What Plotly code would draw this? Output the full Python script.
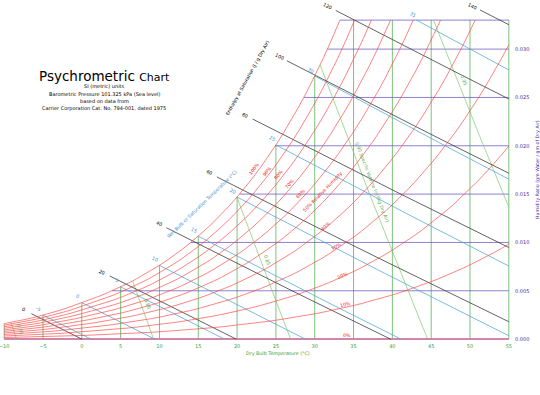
import numpy as np
import plotly.graph_objects as go

# ---------------- data ----------------
P_ATM = 101.325          # kPa, sea level
W_TOP = 0.033            # upper humidity-ratio limit of the chart

sat_temps = list(range(-10, 56))
sat_pressure_kpa = [0.2599, 0.2839, 0.3099, 0.3380, 0.3684, 0.4018, 0.4375, 0.4763, 0.5177, 0.5623,
                    0.6112, 0.6571, 0.7060, 0.7581, 0.8135, 0.8726, 0.9354, 1.0021, 1.0730, 1.1482,
                    1.2282, 1.3129, 1.4028, 1.4981, 1.5989, 1.7057, 1.8188, 1.9383, 2.0647, 2.1982,
                    2.3392, 2.4881, 2.6452, 2.8109, 2.9856, 3.1697, 3.3637, 3.5679, 3.7828, 4.0089,
                    4.2467, 4.4966, 4.7592, 5.0351, 5.3247, 5.6286, 5.9475, 6.2818, 6.6324, 6.9997,
                    7.3844, 7.7873, 8.2090, 8.6503, 9.1118, 9.5944, 10.0988, 10.6259, 11.1764, 11.7512,
                    12.3513, 12.9774, 13.6305, 14.3116, 15.0215, 15.7614]

dry_bulb_temps = [-10, -5, 0, 5, 10, 15, 20, 25, 30, 35, 40, 45, 50, 55]
humidity_ratios = [0.005, 0.010, 0.015, 0.020, 0.025, 0.030]
rh_levels = [10, 20, 30, 40, 50, 60, 70, 80, 90, 100]
rh_label_levels = [0, 10, 20, 30, 40, 50, 60, 70, 80, 90, 100]
rh_label_text = ["0%", "10%", "20%", "30%", "40%", "50% Relative Humidity",
                 "60%", "70%", "80%", "90%", "100%"]
enthalpy_levels = [0, 20, 40, 60, 80, 100, 120, 140]          # kJ/kg dry air
enthalpy_label_temps = [-7.5, 2.6, 9.9, 16.4, 21.0, 25.4, 31.7, 50.3]
wet_bulb_temps = [-5, 0, 5, 10, 15, 20, 25, 30, 35]
volume_levels = [0.75, 0.80, 0.85, 0.90, 0.95]                # m3/kg dry air
volume_label_text = ["0.75", "0.80", "0.85", "0.90 Specific Volume (m³/kg Dry Air)", "0.95"]
volume_label_w = [0.00103, 0.00372, 0.00817, 0.0162, 0.0268]
x_tick_vals = list(range(-10, 56, 5))
y_tick_vals = [0.000, 0.005, 0.010, 0.015, 0.020, 0.025, 0.030]
y_tick_text = ["0.000", "0.005", "0.010", "0.015", "0.020", "0.025", "0.030"]

# ---------------- geometry / style ----------------
FIG_W, FIG_H = 540, 395
M_L, M_R, M_T, M_B = 3, 30, 0, 53
X_RANGE = [-10.15, 55.15]
Y_RANGE = [-0.0003, 0.03508]
PLOT_W = FIG_W - M_L - M_R
PLOT_H = FIG_H - M_T - M_B
PX_PER_C = PLOT_W / (X_RANGE[1] - X_RANGE[0])
PX_PER_W = PLOT_H / (Y_RANGE[1] - Y_RANGE[0])

FONT = "DejaVu Sans"
RED = "rgba(255,60,60,0.8)"
GREEN_DB = "rgba(80,175,80,0.75)"
PURPLE = "rgba(105,85,185,0.75)"
BLUE = "rgba(80,165,215,0.85)"
GRAY = "rgba(50,50,50,0.85)"
VOL = "rgba(120,200,100,0.75)"
LW = 0.9


def paper(px, py):
    return (px - M_L) / PLOT_W, (M_T + PLOT_H - py) / PLOT_H


def ws_at(T):
    p = np.interp(T, sat_temps, sat_pressure_kpa)
    return 0.621945 * p / (P_ATM - p)


def w_rh(T, phi):
    p = phi * np.interp(T, sat_temps, sat_pressure_kpa)
    return 0.621945 * p / (P_ATM - p)


def angle(dT, dW):
    return -np.degrees(np.arctan2(dW * PX_PER_W, dT * PX_PER_C))


def clip_top(T, W):
    oT, oW = [], []
    for i in range(len(T)):
        if W[i] <= W_TOP:
            oT.append(float(T[i])); oW.append(float(W[i]))
        else:
            if i > 0 and W[i - 1] < W_TOP:
                f = (W_TOP - W[i - 1]) / (W[i] - W[i - 1])
                oT.append(float(T[i - 1] + f * (T[i] - T[i - 1]))); oW.append(W_TOP)
            break
    return oT, oW


def add_family(fig, segs, color, width=LW):
    xs, ys = [], []
    for t, w in segs:
        xs += list(t) + [None]
        ys += list(w) + [None]
    fig.add_trace(go.Scatter(x=xs, y=ys, mode="lines", hoverinfo="skip",
                             line=dict(color=color, width=width), showlegend=False))


def label(**kw):
    d = dict(showarrow=False, xanchor="center", yanchor="middle")
    d.update(kw)
    return d


sat_T = np.array(sat_temps, dtype=float)
sat_W = ws_at(sat_T)

fig = go.Figure()
ann = []

# dry-bulb verticals
segs = []
for T in dry_bulb_temps:
    segs.append(([T, T], [0, min(ws_at(T), W_TOP)]))
add_family(fig, segs, GREEN_DB, 1.0)

# humidity ratio horizontals
segs = []
for w in humidity_ratios + [W_TOP]:
    t0 = float(np.interp(w, sat_W, sat_T))
    segs.append(([t0, 55], [w, w]))
add_family(fig, segs, PURPLE, 1.0)
add_family(fig, [([-10, 55], [0, 0])], "rgba(205,120,160,0.9)", 2.0)

# specific volume lines
segs = []
grid = np.arange(-10, 55.0001, 0.02)
for v, txt, wl in zip(volume_levels, volume_label_text, volume_label_w):
    A = v * P_ATM / 0.287042
    wv = lambda T: (A / (np.asarray(T) + 273.15) - 1) / 1.607858
    T_end = min(A - 273.15, 55)
    diff = wv(grid) - np.minimum(ws_at(grid), W_TOP)
    T_start = float(grid[np.argmax(diff <= 0)])
    Ts = np.linspace(T_start, T_end, 15)
    segs.append((Ts, wv(Ts)))
    tl = A / (1 + 1.607858 * wl) - 273.15
    ang = angle(0.2, float(wv(tl + 0.1) - wv(tl - 0.1)))
    ann.append(label(x=tl, y=wl, text=txt, textangle=ang, xshift=7,
                     font=dict(family=FONT, size=4.7, color="rgb(90,170,80)")))
add_family(fig, segs, VOL, 0.9)

# wet-bulb lines
segs = []
for twb in wet_bulb_temps:
    ws = float(ws_at(twb))
    a = (2501 - 2.326 * twb) * ws
    wf = lambda T: (a - 1.006 * (np.asarray(T) - twb)) / (2501 + 1.86 * np.asarray(T) - 4.186 * twb)
    T_end = min(twb + a / 1.006, 55)
    if ws > W_TOP:
        T_start = (a + 1.006 * twb - W_TOP * (2501 - 4.186 * twb)) / (1.006 + 1.86 * W_TOP)
    else:
        T_start = twb
    Ts = np.linspace(T_start, T_end, 12)
    segs.append((Ts, wf(Ts)))
    ang = angle(1.0, float(wf(T_start + 1) - wf(T_start)))
    ann.append(label(x=T_start, y=float(wf(T_start)), text=str(twb), textangle=ang,
                     xshift=-4, yshift=6,
                     font=dict(family=FONT, size=4.7, color="rgb(60,150,210)")))
add_family(fig, segs, BLUE, 0.9)

# enthalpy lines
segs = []
for h, tl in zip(enthalpy_levels, enthalpy_label_temps):
    hf = lambda T: (h - 1.006 * np.asarray(T)) / (2501 + 1.86 * np.asarray(T))
    T_end = min(h / 1.006, 55)
    Ts = np.linspace(tl + 1.0, T_end, 12)
    segs.append((Ts, hf(Ts)))
    ang = angle(1.0, float(hf(tl + 1) - hf(tl)))
    ann.append(label(x=tl, y=float(hf(tl)), text=str(h), textangle=ang,
                     font=dict(family=FONT, size=4.7, color="black")))
add_family(fig, segs, GRAY, 0.9)

# relative humidity curves
segs = []
for rh in rh_levels:
    W = w_rh(sat_T, rh / 100)
    segs.append(clip_top(sat_T, W))
add_family(fig, segs, RED, 0.8)

# RH labels (positions measured on the chart)
rh_label_px = [(347, 335), (346, 304.3), (342.7, 275), (336.7, 246.7), (325.3, 226),
               (323.3, 191.7), (301, 193.3), (290, 183.3), (278.7, 174.3), (267.3, 171.7),
               (254.3, 168.3)]
for lvl, txt, (px, py) in zip(rh_label_levels, rh_label_text, rh_label_px):
    T = (px - 4) / 7.769 - 10
    W = (339 - py) / 9667
    if lvl == 0:
        ang = 0
    else:
        ang = angle(1.0, float(w_rh(T + 0.5, lvl / 100) - w_rh(T - 0.5, lvl / 100)))
    ann.append(label(x=T, y=W, text=txt, textangle=ang,
                     font=dict(family=FONT, size=4.7, color="rgb(235,30,30)")))

# descriptive rotated labels
for txt, (px, py), ang, col in [
    ("Enthalpy at Saturation (J / g Dry Air)", (247, 78), -61, "black"),
    ("Wet Bulb or Saturation Temperature (°C)", (202, 205), -44, "rgb(60,150,210)"),
]:
    xp, yp = paper(px, py)
    ann.append(label(x=xp, y=yp, xref="paper", yref="paper", text=txt, textangle=ang,
                     font=dict(family=FONT, size=4.7, color=col)))

# title block
title_lines = [
    ("Psychrometric <span style='font-size:11px'>Chart</span>", 76, 13.5),
    ("SI (metric) units", 86, 5),
    ("Barometric Pressure 101.325 kPa (Sea level)", 94, 5),
    ("based on data from", 100.5, 5),
    ("Carrier Corporation Cat. No. 794-001, dated 1975", 108, 5),
]
for txt, py, size in title_lines:
    xp, yp = paper(104, py)
    ann.append(label(x=xp, y=yp, xref="paper", yref="paper", text=txt,
                     font=dict(family=FONT, size=size, color="black")))

# axis titles
xp, yp = paper(278, 353)
ann.append(label(x=xp, y=yp, xref="paper", yref="paper", text="Dry Bulb Temperature (°C)",
                 font=dict(family=FONT, size=4.8, color="rgb(50,160,60)")))
xp, yp = paper(537, 170)
ann.append(label(x=xp, y=yp, xref="paper", yref="paper",
                 text="Humidity Ratio (gm Water / gm of Dry Air)", textangle=-90,
                 font=dict(family=FONT, size=4.7, color="rgb(60,40,170)")))

fig.update_layout(
    width=FIG_W, height=FIG_H,
    margin=dict(l=M_L, r=M_R, t=M_T, b=M_B, pad=0),
    paper_bgcolor="white", plot_bgcolor="white",
    annotations=ann,
    xaxis=dict(range=X_RANGE, showgrid=False, zeroline=False, showline=False,
               tickvals=x_tick_vals, ticks="", automargin=False, ticklabeloverflow="allow",
               tickfont=dict(family=FONT, size=5, color="rgb(50,160,60)")),
    yaxis=dict(range=Y_RANGE, showgrid=False, zeroline=False, showline=False, side="right",
               tickvals=y_tick_vals, ticktext=y_tick_text, ticks="", automargin=False,
               ticklabelstandoff=4, ticklabeloverflow="allow",
               tickfont=dict(family=FONT, size=5, color="rgb(60,40,170)")),
)

fig.write_html("out.html", config={"displayModeBar": False},
               post_script="document.body.style.margin='0';document.body.style.padding='0';")
